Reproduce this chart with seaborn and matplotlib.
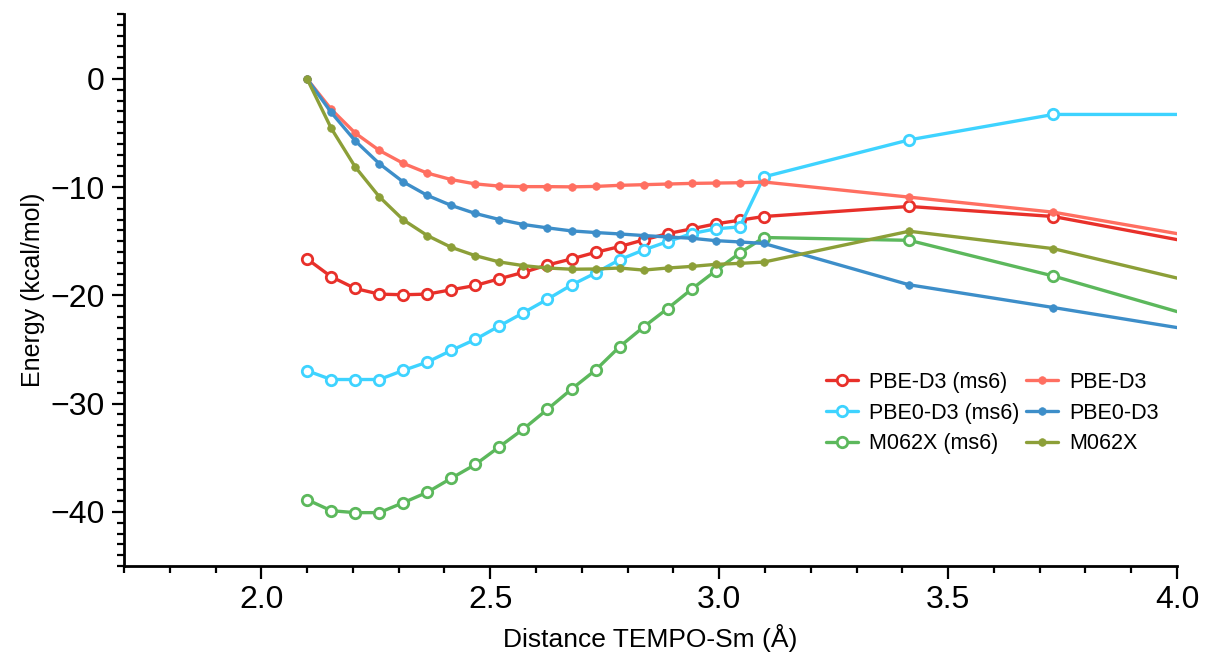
import matplotlib
matplotlib.use("Agg")
import matplotlib.pyplot as plt
from matplotlib.ticker import MultipleLocator
import seaborn as sns
import pandas as pd

distance = [2.100, 2.1525, 2.205, 2.2575, 2.310, 2.3625, 2.415, 2.4675, 2.520, 2.5725,
            2.625, 2.6775, 2.730, 2.7825, 2.835, 2.8875, 2.940, 2.9925, 3.045, 3.0975,
            3.415, 3.730, 4.045]

pbe_d3_ms6 = [-16.63, -18.27, -19.36, -19.88, -19.94, -19.88, -19.48, -19.08, -18.46, -17.87,
              -17.19, -16.63, -16.02, -15.49, -14.87, -14.29, -13.85, -13.39, -13.05, -12.71,
              -11.78, -12.71, -15.2]
pbe0_d3_ms6 = [-26.96, -27.77, -27.77, -27.77, -26.93, -26.16, -25.08, -24.06, -22.82, -21.6,
               -20.35, -19.04, -17.93, -16.7, -15.8, -15.03, -14.29, -13.85, -13.67, -9.05,
               -5.63, -3.28, -3.28]
m062x_ms6 = [-38.87, -39.89, -40.07, -40.07, -39.15, -38.19, -36.89, -35.62, -33.98, -32.34,
             -30.52, -28.66, -26.9, -24.74, -22.91, -21.21, -19.42, -17.72, -16.08, -14.65,
             -14.91, -18.21, -22.04]
pbe_d3 = [0, -2.8, -5.0, -6.6, -7.8, -8.7, -9.3, -9.7, -9.9, -9.95,
          -9.95, -9.97, -9.93, -9.83, -9.77, -9.71, -9.65, -9.62, -9.59, -9.52,
          -10.92, -12.31, -14.62]
pbe0_d3 = [0, -3.09, -5.72, -7.82, -9.52, -10.76, -11.69, -12.43, -12.99, -13.45,
           -13.76, -14.04, -14.19, -14.32, -14.47, -14.6, -14.72, -14.94, -15.06, -15.2,
           -19.02, -21.12, -23.28]
m062x = [0, -4.55, -8.13, -10.88, -13.02, -14.47, -15.56, -16.33, -16.91, -17.25,
         -17.47, -17.58, -17.56, -17.47, -17.66, -17.47, -17.32, -17.13, -17.04, -16.92,
         -14.07, -15.68, -18.85]

series_names = ["PBE-D3 (ms6)", "PBE0-D3 (ms6)", "M062X (ms6)", "PBE-D3", "PBE0-D3", "M062X"]
series_values = [pbe_d3_ms6, pbe0_d3_ms6, m062x_ms6, pbe_d3, pbe0_d3, m062x]
colors = ["#e8302a", "#3ed3ff", "#5cb85c", "#ff6f61", "#3d8ec9", "#8c9f38"]
open_marker = [True, True, True, False, False, False]

sns.set_style("ticks")
plt.rcParams["font.family"] = ["Liberation Sans", "DejaVu Sans"]
plt.rcParams["text.color"] = "black"
plt.rcParams["axes.labelcolor"] = "black"

fig = plt.figure(figsize=(12.05, 6.58), dpi=100)
ax = fig.add_axes([124 / 1205, 1 - 566 / 658, (1177 - 124) / 1205, (566 - 14) / 658])

for name, vals, col, op in zip(series_names, series_values, colors, open_marker):
    df = pd.DataFrame({"x": distance, "y": vals})
    if op:
        sns.lineplot(data=df, x="x", y="y", ax=ax, color=col, label=name, linewidth=2.4,
                     marker="o", markersize=7.5, markerfacecolor="white",
                     markeredgecolor=col, markeredgewidth=2.0, sort=False, estimator=None)
    else:
        sns.lineplot(data=df, x="x", y="y", ax=ax, color=col, label=name, linewidth=2.4,
                     marker="o", markersize=5.5, markerfacecolor=col,
                     markeredgecolor=col, markeredgewidth=0.5, sort=False, estimator=None)

ax.set_xlim(1.7, 4.0)
ax.set_ylim(-45, 6)
ax.xaxis.set_major_locator(MultipleLocator(0.5))
ax.xaxis.set_minor_locator(MultipleLocator(0.1))
ax.yaxis.set_major_locator(MultipleLocator(10))
ax.yaxis.set_minor_locator(MultipleLocator(1))
ax.xaxis.set_major_formatter(matplotlib.ticker.FormatStrFormatter("%.1f"))

for side in ["top", "right"]:
    ax.spines[side].set_visible(False)
for side in ["left", "bottom"]:
    ax.spines[side].set_linewidth(2.0)
    ax.spines[side].set_color("black")

ax.tick_params(which="major", direction="out", length=9, width=1.6, labelsize=23,
               colors="black", labelcolor="black", pad=5)
ax.tick_params(which="minor", direction="out", length=5, width=1.6, colors="black")

ax.set_xlabel("Distance TEMPO-Sm (Å)", fontsize=19, labelpad=6, color="black")
ax.set_ylabel("Energy (kcal/mol)", fontsize=18, labelpad=4, color="black")

leg = ax.legend(ncol=2, frameon=False, loc="upper left",
                bbox_to_anchor=(826 / 1205, 1 - 372 / 658), bbox_transform=fig.transFigure,
                fontsize=15.5, handlelength=1.5, handletextpad=0.5, columnspacing=0.3,
                labelspacing=0.45, borderaxespad=0, borderpad=0, labelcolor="black")

fig.savefig("out.png", dpi=100)
